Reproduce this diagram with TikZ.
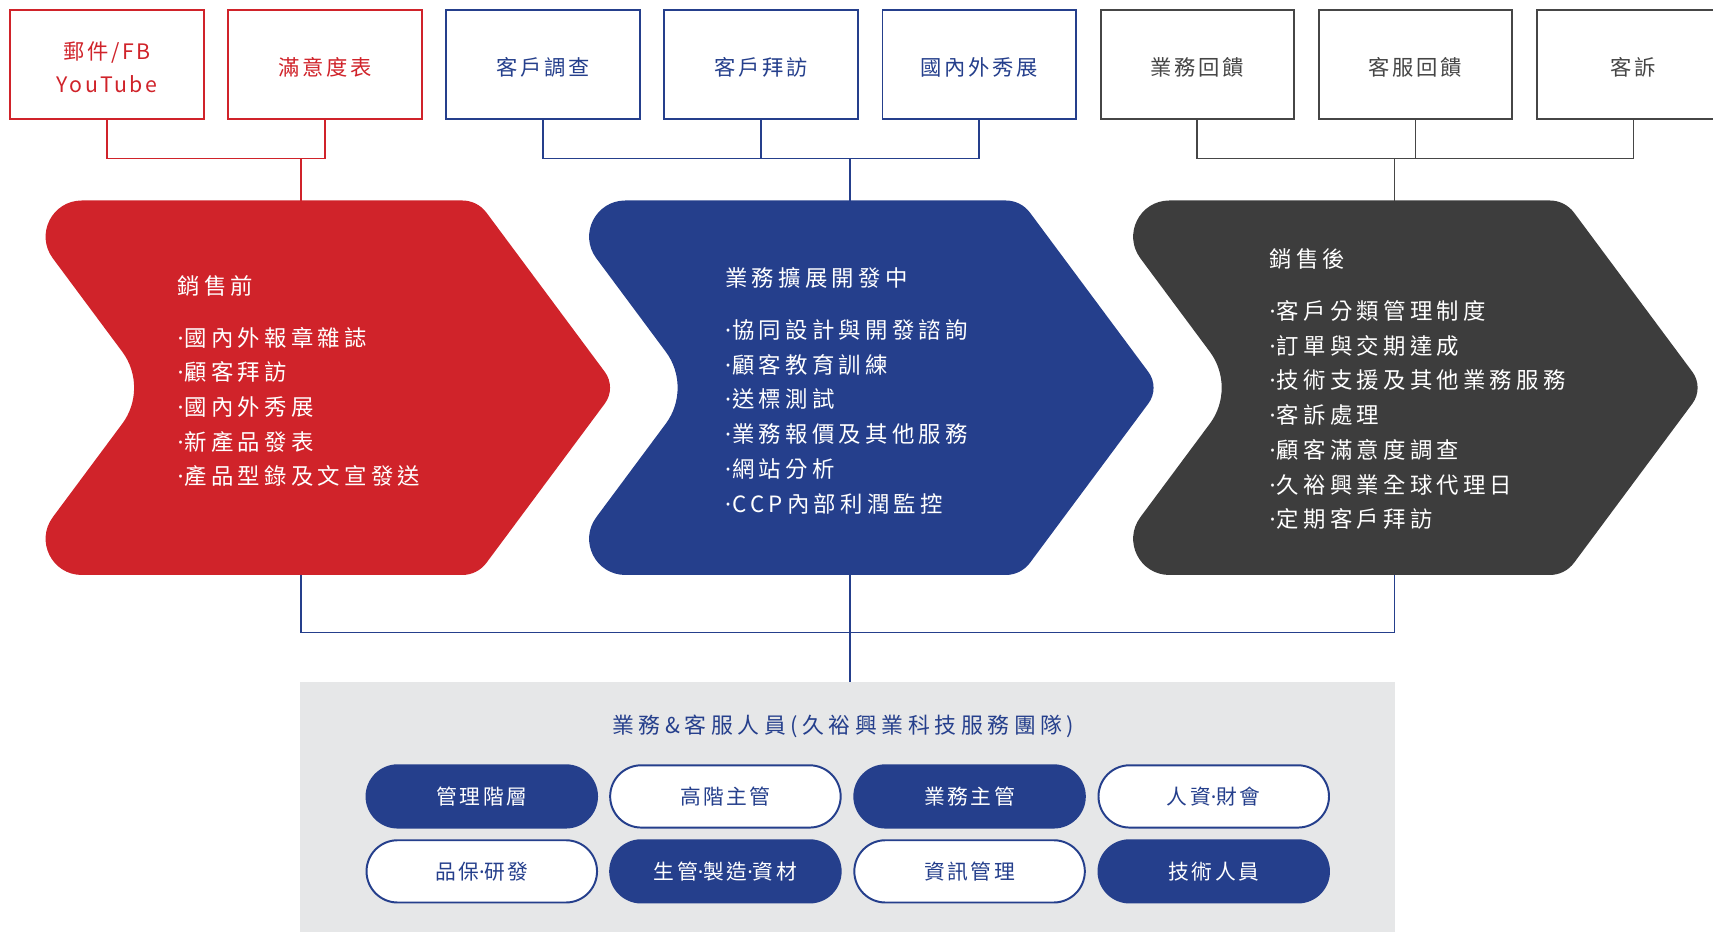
\documentclass[tikz,border=0pt]{standalone}
\usepackage{fontspec}
\usetikzlibrary{calc}
\newfontfamily\cjk[LetterSpace=12]{Noto Sans CJK TC}
\newfontfamily\cjkw[LetterSpace=19]{Noto Sans CJK TC}
\newfontfamily\cjkt[LetterSpace=21]{Noto Sans CJK TC}
\newfontfamily\dotfont{Noto Sans}
\newcommand\md{{\dotfont ·}\kern1pt}
\definecolor{cred}{HTML}{D0232A}
\definecolor{cblue}{HTML}{253F8C}
\definecolor{cdark}{HTML}{3D3D3D}
\definecolor{cgbox}{HTML}{464646}
\definecolor{cpanel}{HTML}{E6E7E8}
\newcommand\chevshape[2]{%
\begin{scope}[xshift=#1pt]
\coordinate (TL) at (9,183.5);
\coordinate (TR) at (437,183.5);
\coordinate (TIP) at (564.4,354.9);
\coordinate (BR) at (437,526.3);
\coordinate (BL) at (9,526.3);
\coordinate (N) at (136.4,354.9);
\fill[#2] ($(TL)!66pt!(TR)$) -- ($(TR)!14pt!(TL)$) .. controls ($(TR)!5.1pt!(TL)$) and ($(TR)!5.1pt!(TIP)$) .. ($(TR)!14pt!(TIP)$)
 -- ($(TIP)!18pt!(TR)$) .. controls ($(TIP)!7.4pt!(TR)$) and ($(TIP)!7.4pt!(BR)$) .. ($(TIP)!18pt!(BR)$)
 -- ($(BR)!14pt!(TIP)$) .. controls ($(BR)!5.1pt!(TIP)$) and ($(BR)!5.1pt!(BL)$) .. ($(BR)!14pt!(BL)$)
 -- ($(BL)!66pt!(BR)$) .. controls ($(BL)!38.6pt!(BR)$) and ($(BL)!38.6pt!(N)$) .. ($(BL)!66pt!(N)$)
 -- ($(N)!41pt!(BL)$) .. controls ($(N)!16.8pt!(BL)$) and ($(N)!16.8pt!(TL)$) .. ($(N)!41pt!(TL)$)
 -- ($(TL)!66pt!(N)$) .. controls ($(TL)!38.6pt!(N)$) and ($(TL)!38.6pt!(TR)$) .. ($(TL)!66pt!(TR)$) -- cycle;
\end{scope}}
\begin{document}
\begin{tikzpicture}[x=1pt,y=-1pt,
  topbox/.style={draw, line width=1.8pt, fill=white, minimum width=177pt, minimum height=99.7pt,
    inner sep=0pt, align=center, text height=21pt, font=\cjk\fontsize{19.5}{30.3}\selectfont},
  redbox/.style={topbox, draw=cred, text=cred},
  bluebox/.style={topbox, draw=cblue, text=cblue},
  graybox/.style={topbox, draw=cgbox, text=cgbox},
  conn/.style={line width=1.4pt},
  chevhead/.style={anchor=west, inner sep=0pt, text=white, font=\cjkw\fontsize{20.5}{31.8}\selectfont},
  chevlist/.style={anchor=west, inner sep=0pt, text=white, align=left, font=\cjkw\fontsize{20.5}{31.8}\selectfont},
  pill/.style={rounded corners=28.5pt, minimum width=211pt, minimum height=57pt, inner sep=0pt,
    line width=1.8pt, draw=cblue, font=\cjk\fontsize{19}{22}\selectfont},
  pillB/.style={pill, fill=cblue, text=white},
  pillW/.style={pill, fill=white, text=cblue},
]
\useasboundingbox (0,0) rectangle (1568,852.2);

% top boxes
\node[redbox, text height=52pt] (b1) at (97.9,59.05) {郵件/FB\\YouTube};
\node[redbox]  (b2) at (297.5,59.05)  {滿意度表};
\node[bluebox] (b3) at (497.1,59.05)  {客戶調查};
\node[bluebox] (b4) at (696.7,59.05)  {客戶拜訪};
\node[bluebox] (b5) at (896.3,59.05)  {國內外秀展};
\node[graybox] (b6) at (1095.9,59.05) {業務回饋};
\node[graybox] (b7) at (1295.5,59.05) {客服回饋};
\node[graybox] (b8) at (1495.1,59.05) {客訴};

% junctions and chevron anchor points
\coordinate (rj) at (275.7,145.2);
\coordinate (bj) at (777.8,145.2);
\coordinate (gj) at (1276.6,145.2);
\coordinate (redtop) at (275.7,184);
\coordinate (bluetop) at (777.8,184);
\coordinate (graytop) at (1276.6,184);
\coordinate (redbot) at (275.7,525);
\coordinate (bluebot) at (777.8,525);
\coordinate (graybot) at (1276.6,525);
\coordinate (botj) at (777.8,578.8);

% panel
\node[fill=cpanel, inner sep=0pt, minimum width=1002pt, minimum height=228pt, anchor=north west] (panel) at (274.8,624.5) {};

% connectors
\draw[conn, cred] (b1.south) |- (rj) -| (b2.south);
\draw[conn, cred] (rj) -- (redtop);
\draw[conn, cblue] (b3.south) |- (bj) -| (b5.south);
\draw[conn, cblue] (b4.south) -- (b4.south |- bj);
\draw[conn, cblue] (bj) -- (bluetop);
\draw[conn, cgbox] (b6.south) |- (gj) -| (b8.south);
\draw[conn, cgbox] (b7.south) -- (b7.south |- gj);
\draw[conn, cgbox] (gj) -- (graytop);
\draw[conn, cblue] (redbot) |- (botj) -| (graybot);
\draw[conn, cblue] (bluebot) -- (bluebot |- panel.north);

% chevrons
\chevshape{0}{cred}
\chevshape{497.5}{cblue}
\chevshape{995.5}{cdark}

% chevron texts
\node[chevhead] (redhead) at (162.3,262) {銷售前};
\node[chevlist] (reditems) at (162.3,372.5) {\md 國內外報章雜誌\\\md 顧客拜訪\\\md 國內外秀展\\\md 新產品發表\\\md 產品型錄及文宣發送};
\node[chevhead] (bluehead) at (663.6,254.6) {業務擴展開發中};
\node[chevlist] (blueitems) at (663.6,381.4) {\md 協同設計與開發諮詢\\\md 顧客教育訓練\\\md 送標測試\\\md 業務報價及其他服務\\\md 網站分析\\\md CCP內部利潤監控};
\node[chevhead] (grayhead) at (1162,237) {銷售後};
\node[chevlist] (grayitems) at (1162,379.9) {\md 客戶分類管理制度\\\md 訂單與交期達成\\\md 技術支援及其他業務服務\\\md 客訴處理\\\md 顧客滿意度調查\\\md 久裕興業全球代理日\\\md 定期客戶拜訪};

% panel content
\node[text=cblue, inner sep=0pt, font=\cjkt\fontsize{20}{24}\selectfont] (ptitle) at (772,665) {業務\&客服人員(久裕興業科技服務團隊)};
\node[pillB] (p1) at (441,729)     {管理階層};
\node[pillW] (p2) at (664,729)     {高階主管};
\node[pillB] (p3) at (887.5,729)   {業務主管};
\node[pillW] (p4) at (1111,729)    {人資{\dotfont ·}財會};
\node[pillW] (p5) at (441,797.6)   {品保{\dotfont ·}研發};
\node[pillB] (p6) at (664,797.6)   {生管{\dotfont ·}製造{\dotfont ·}資材};
\node[pillW] (p7) at (887.5,797.6) {資訊管理};
\node[pillB] (p8) at (1111,797.6)  {技術人員};
\end{tikzpicture}
\end{document}
